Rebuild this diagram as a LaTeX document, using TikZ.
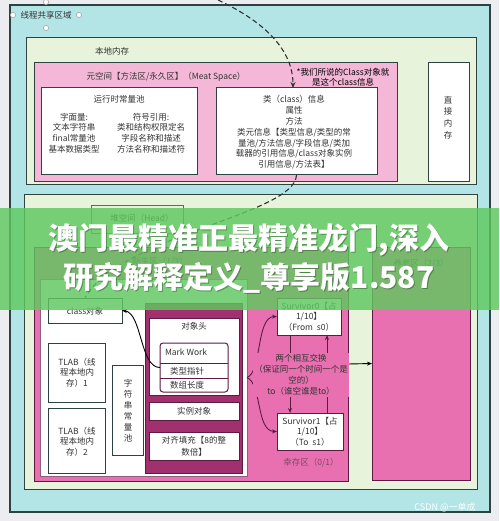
\documentclass[tikz,border=0pt]{standalone}
\usepackage{fontspec}
\setmainfont{Noto Sans CJK SC}
\newfontfamily\cjkb{Noto Sans CJK SC}
\usetikzlibrary{arrows.meta}
\definecolor{bgc}{HTML}{EBEDF0}
\definecolor{cyanc}{HTML}{B3E4E6}
\definecolor{lgreen}{HTML}{E7F3DA}
\definecolor{lpink}{HTML}{F4B7D7}
\definecolor{hpink}{HTML}{E870B0}
\definecolor{mag}{HTML}{A0306E}
\definecolor{dmag}{HTML}{5E1A42}
\definecolor{edgec}{HTML}{2F4242}
\definecolor{txt}{HTML}{333333}
\definecolor{redc}{HTML}{D8352C}
\definecolor{bannerc}{HTML}{5FC85F}
\begin{document}
\begin{tikzpicture}[x=1pt,y=-1pt,
  every node/.style={inner sep=0pt,outer sep=0pt,font=\fontsize{8.5}{10.6}\selectfont,text=txt},
  bx/.style={draw=edgec,line width=1pt,anchor=north west,rectangle},
  ml/.style={align=center},
  conn/.style={line width=0.9pt,-{Stealth[length=5pt,width=4pt]}},
  dconn/.style={line width=1.1pt,dash pattern=on 5pt off 3pt,draw=txt},
  handle/.style={draw=gray!70,fill=white,line width=0.6pt}]
\fill[bgc] (0,0) rectangle (499,521);
\useasboundingbox (0,0) rectangle (499,521);
% main containers
\node[bx,fill=cyanc,line width=1.2pt,minimum width=480pt,minimum height=507pt] (outer) at (10,5) {};
\node[bx,fill=lgreen,minimum width=450pt,minimum height=147pt] (local) at (26,38) {};
\node[bx,fill=lpink,minimum width=363pt,minimum height=119pt] (meta) at (34,63) {};
\node[bx,fill=white,minimum width=156pt,minimum height=87pt] (rcp) at (41,88) {};
\node[bx,fill=white,minimum width=161pt,minimum height=87pt] (cls) at (216,88) {};
\node[bx,fill=white,minimum width=41pt,minimum height=119pt] (direct) at (428,63) {};
\node[bx,fill=lgreen,minimum width=453pt,minimum height=294pt] (heap) at (24,195) {};
\node[bx,draw=redc,minimum width=92pt,minimum height=28pt] (headlbl) at (91,205) {};
\node[bx,fill=hpink,draw=dmag,minimum width=314pt,minimum height=234pt] (young) at (34,247) {};
\node[bx,fill=white,draw=dmag!70,minimum width=207pt,minimum height=197pt] (eden) at (40,279) {};
\node[bx,fill=hpink,draw=dmag,minimum width=98pt,minimum height=233pt] (old) at (372,247) {};
\node[bx,fill=white,minimum width=74pt,minimum height=25pt] (clsobj) at (48,298) {};
\node[bx,fill=white,minimum width=57pt,minimum height=59pt] (tlab1) at (48,343) {};
\node[bx,fill=white,minimum width=57pt,minimum height=65pt] (tlab2) at (48,408) {};
\node[bx,fill=white,minimum width=31pt,minimum height=90pt] (strpool) at (112,365) {};
\node[bx,fill=mag,draw=dmag,minimum width=97pt,minimum height=170pt] (obj) at (145,303) {};
\node[bx,fill=white,draw=dmag,minimum width=90pt,minimum height=77pt] (hdr) at (149,318) {};
\node[bx,fill=white,draw=dmag,rounded corners=3pt,minimum width=68pt,minimum height=49pt] (inner) at (160,343) {};
\draw[dmag,line width=0.8pt] (160,363) -- (228,363) (160,378) -- (228,378);
\node[bx,fill=white,draw=dmag,minimum width=90pt,minimum height=18pt] (inst) at (149,402) {};
\node[bx,fill=white,draw=dmag,minimum width=90pt,minimum height=28pt] (pad) at (149,432) {};
\node[bx,fill=white,draw=dmag,minimum width=64pt,minimum height=37pt] (s0) at (277,298) {};
\node[bx,fill=white,draw=dmag,minimum width=66pt,minimum height=37pt] (s1) at (277,413) {};
% selection handles
\draw[handle] (13,15) circle (2.6pt) (79,15) circle (2.6pt) (46,2) circle (2.6pt) (46,28) circle (2.6pt);
% texts
\node (tshare) at (46,15) {线程共享区域};
\node (tlocal) at (112,51) {本地内存};
\node (tmeta) at (166,77) {元空间【方法区/永久区】（Meat Space）};
\node (trcp) at (119,99) {运行时常量池};
\node[ml] (tlit) at (74,133) {字面量:\\文本字符串\\final常量池\\基本数据类型};
\node[ml] (tsym) at (151,133) {符号引用:\\类和结构权限定名\\字段名称和描述\\方法名称和描述符};
\node[ml,font=\fontsize{8.5}{10.8}\selectfont] (tcls) at (294,132.5) {类（class）信息\\属性\\方法\\类元信息【类型信息/类型的常\\量池/方法信息/字段信息/类加\\载器的引用信息/class对象实例\\引用信息/方法表】};
\node[ml,text=black,font=\fontsize{8.5}{10.2}\selectfont] (tnote) at (343,77) {*我们所说的Class对象就\\是这个class信息};
\node[ml,font=\fontsize{8.5}{11.7}\selectfont] (tdirect) at (448,117.5) {直\\接\\内\\存};
\node (thead) at (142,218) {堆空间（Head）};
\node (tyoung) at (160,262) {新生区（1/3）};
\node (told) at (421,264) {养老区（2/3）};
\node (tclsobj) at (85,311) {class对象};
\node[ml] (ttlab1) at (77,372.5) {TLAB（线\\程本地内\\存）1};
\node[ml] (ttlab2) at (77,441.5) {TLAB（线\\程本地内\\存）2};
\node[ml,font=\fontsize{8.5}{11}\selectfont] (tstr) at (128,410.5) {字\\符\\串\\常\\量\\池};
\node (thdr) at (194,326) {对象头};
\node[anchor=west] (tmark) at (165,352) {Mark Work};
\node[anchor=west] (tptr) at (170,371) {类型指针};
\node[anchor=west] (tlen) at (170,385) {数组长度};
\node (tinst) at (194,411) {实例对象};
\node[ml,font=\fontsize{8.5}{12}\selectfont] (tpad) at (194,446) {对齐填充【8的整\\数倍】};
\node[ml] (ts0) at (309,316.5) {Survivor0【占\\1/10】\\（From\ \ s0）};
\node[ml] (ts1) at (310,431.5) {Survivor1【占\\1/10】\\（To\ \ s1）};
\node[text=dmag!80] (tsurv) at (311,463) {幸存区（0/1）};
% connectors
\coordinate (dtop) at (218,0);
\draw[dconn,-{Stealth[length=6pt,width=5pt]}] (dtop) .. controls (265,22) and (293,50) .. ([xshift=-3.5pt]cls.north);
\draw[dconn] (cls.south) .. controls (295,215) and (120,235) .. (clsobj.north);
\draw[conn,black] (inner.west) .. controls (140,368) and (142,313) .. (clsobj.east);
\draw[conn,dmag] ([xshift=13pt]s0.south west) -- ([xshift=13pt]s1.north west);
\draw[conn,dmag] ([xshift=50pt]s1.north west) -- ([xshift=50pt]s0.south west);
\draw[conn,dmag] (eden.east) .. controls (262,372) and (256,317) .. (s0.west);
\draw[conn,dmag] (eden.east) .. controls (262,384) and (256,431) .. (s1.west);
\draw[conn,black] (young.east) -- (old.west);
\node[ml,fill=hpink,inner sep=1pt,font=\fontsize{8.5}{11}\selectfont] (tswap) at (301,375) {两个相互交换\\（保证同一个时间一个是\\空的）\\to（谁空谁是to）};
% overlay banner
\fill[bannerc,opacity=0.82] (0,208) rectangle (499,310);
\node[font=\cjkb\bfseries\fontsize{30}{38}\selectfont,text=black,opacity=0.3] (bshadow) at (250,241) {澳门最精准正最精准龙门,深入};
\node[font=\cjkb\bfseries\fontsize{30}{38}\selectfont,text=black,opacity=0.3] (bshadow2) at (250,279) {研究解释定义\_尊享版1.587};
\node[font=\cjkb\bfseries\fontsize{30}{38}\selectfont,text=white] (bline1) at (249,240) {澳门最精准正最精准龙门,深入};
\node[font=\cjkb\bfseries\fontsize{30}{38}\selectfont,text=white] (bline2) at (249,278) {研究解释定义\_尊享版1.587};
\node[font=\fontsize{9}{10}\selectfont,text=white] (wm) at (445,507) {CSDN @一单成};
\end{tikzpicture}
\end{document}
